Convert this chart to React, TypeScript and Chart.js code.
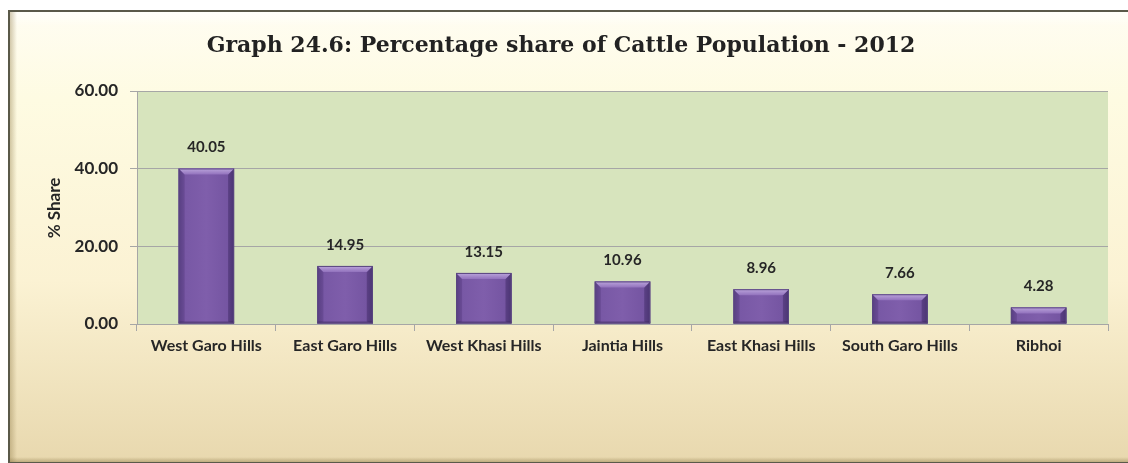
import React, { useEffect, useRef } from "react";
import { Chart, registerables } from "chart.js";

Chart.register(...registerables);

const categories = [
  "West Garo Hills",
  "East Garo Hills",
  "West Khasi Hills",
  "Jaintia Hills",
  "East Khasi Hills",
  "South Garo Hills",
  "Ribhoi",
];
const shares = [40.05, 14.95, 13.15, 10.96, 8.96, 7.66, 4.28];
const yMin = 0;
const yMax = 60;
const yStep = 20;
const chartTitle = "Graph 24.6: Percentage share of Cattle Population - 2012";
const yAxisTitle = "% Share";

const W = 1128;
const H = 463;
const AXIS_FONT = "Lato, 'Open Sans', sans-serif";

const framePlugin = {
  id: "frame",
  beforeDraw(chart: any) {
    const ctx = chart.ctx as CanvasRenderingContext2D;
    ctx.save();
    ctx.fillStyle = "#ffffff";
    ctx.fillRect(0, 0, W, H);
    const fx = 8, fy = 10, fr = W + 10, fb = 462;
    const g = ctx.createLinearGradient(0, fy, 0, fb);
    g.addColorStop(0, "#fffdf2");
    g.addColorStop(0.2, "#fefbe2");
    g.addColorStop(0.6, "#fbf2d3");
    g.addColorStop(1, "#e8d8ae");
    ctx.fillStyle = g;
    ctx.fillRect(fx, fy, fr - fx, fb - fy);
    const tg = ctx.createLinearGradient(0, fy, 0, fy + 16);
    tg.addColorStop(0, "rgba(255,255,250,1)");
    tg.addColorStop(1, "rgba(255,255,250,0)");
    ctx.fillStyle = tg;
    ctx.fillRect(fx, fy, fr - fx, 16);
    const lg = ctx.createLinearGradient(fx, 0, fx + 9, 0);
    lg.addColorStop(0, "rgba(150,130,80,0.55)");
    lg.addColorStop(1, "rgba(150,130,80,0)");
    ctx.fillStyle = lg;
    ctx.fillRect(fx, fy, 9, fb - fy);
    const bg = ctx.createLinearGradient(0, fb - 5, 0, fb);
    bg.addColorStop(0, "rgba(140,120,70,0)");
    bg.addColorStop(1, "rgba(140,120,70,0.45)");
    ctx.fillStyle = bg;
    ctx.fillRect(fx, fb - 5, fr - fx, 5);
    ctx.strokeStyle = "#5a5949";
    ctx.lineWidth = 2;
    ctx.strokeRect(fx + 1, fy + 1, fr - fx, fb - fy);
    const a = chart.chartArea;
    ctx.fillStyle = "#d7e4bd";
    ctx.fillRect(a.left, a.top, a.right - a.left, a.bottom - a.top);
    ctx.fillStyle = "#222222";
    ctx.font = "bold 22px 'DejaVu Serif', serif";
    ctx.textAlign = "center";
    ctx.textBaseline = "middle";
    ctx.fillText(chartTitle, 561, 46);
    ctx.save();
    ctx.translate(55, 208);
    ctx.rotate(-Math.PI / 2);
    ctx.font = `bold 17px ${AXIS_FONT}`;
    ctx.fillStyle = "#262626";
    ctx.fillText(yAxisTitle, 0, 0);
    ctx.restore();
    ctx.restore();
  },
};

const barStylePlugin = {
  id: "barStyle",
  afterDatasetsDraw(chart: any) {
    const ctx = chart.ctx as CanvasRenderingContext2D;
    const meta = chart.getDatasetMeta(0);
    ctx.save();
    meta.data.forEach((bar: any, i: number) => {
      const { x, y, base, width } = bar.getProps(["x", "y", "base", "width"], true);
      const l = x - width / 2;
      const r = x + width / 2;
      const t = y;
      const b = base;
      const bev = Math.min(6, (b - t) / 2);
      const hg = ctx.createLinearGradient(l, 0, r, 0);
      hg.addColorStop(0, "#5e4689");
      hg.addColorStop(0.12, "#7858a5");
      hg.addColorStop(0.5, "#7f5eab");
      hg.addColorStop(0.88, "#7555a2");
      hg.addColorStop(1, "#5a4383");
      ctx.fillStyle = hg;
      ctx.fillRect(l, t, r - l, b - t);
      ctx.fillStyle = "rgba(70,45,110,0.25)";
      ctx.beginPath();
      ctx.moveTo(l, t);
      ctx.lineTo(l + bev, t + bev);
      ctx.lineTo(l + bev, b - 2);
      ctx.lineTo(l, b);
      ctx.closePath();
      ctx.fill();
      ctx.fillStyle = "rgba(50,30,85,0.35)";
      ctx.beginPath();
      ctx.moveTo(r, t);
      ctx.lineTo(r - bev, t + bev);
      ctx.lineTo(r - bev, b - 2);
      ctx.lineTo(r, b);
      ctx.closePath();
      ctx.fill();
      const tg = ctx.createLinearGradient(0, t, 0, t + bev);
      tg.addColorStop(0, "#bca6dc");
      tg.addColorStop(1, "#9272bd");
      ctx.fillStyle = tg;
      ctx.beginPath();
      ctx.moveTo(l, t);
      ctx.lineTo(r, t);
      ctx.lineTo(r - bev, t + bev);
      ctx.lineTo(l + bev, t + bev);
      ctx.closePath();
      ctx.fill();
      ctx.fillStyle = "rgba(50,30,80,0.45)";
      ctx.fillRect(l, b - 2, r - l, 2);
      ctx.strokeStyle = "#5a4680";
      ctx.lineWidth = 1;
      ctx.strokeRect(l + 0.5, t + 0.5, r - l - 1, b - t - 1);
      ctx.fillStyle = "#262626";
      ctx.font = `bold 15px ${AXIS_FONT}`;
      ctx.textAlign = "center";
      ctx.textBaseline = "alphabetic";
      ctx.fillText(shares[i].toFixed(2), x, t - 16);
    });
    ctx.restore();
  },
};

export default function App() {
  const canvasRef = useRef<HTMLCanvasElement | null>(null);

  useEffect(() => {
    if (!canvasRef.current) return;
    const chart = new Chart(canvasRef.current, {
      type: "bar",
      data: {
        labels: categories,
        datasets: [
          {
            data: shares,
            backgroundColor: "#7a59a6",
            borderWidth: 0,
            barPercentage: 0.4,
            categoryPercentage: 1,
          },
        ],
      },
      plugins: [framePlugin, barStylePlugin],
      options: {
        responsive: false,
        animation: false,
        devicePixelRatio: 1,
        layout: { padding: { left: 0, top: 91, right: 20, bottom: 0 } },
        plugins: {
          legend: { display: false },
          title: { display: false },
          tooltip: { enabled: false },
        },
        scales: {
          x: {
            afterFit: (s: any) => {
              s.height = 139;
            },
            grid: {
              display: true,
              offset: true,
              drawOnChartArea: false,
              drawTicks: true,
              tickLength: 7,
              color: "#a6a6a6",
            },
            border: { display: true, color: "#a6a6a6", width: 1 },
            ticks: {
              color: "#262626",
              font: { family: AXIS_FONT, weight: "bold", size: 16 },
              padding: 5,
              maxRotation: 0,
              autoSkip: false,
            },
          },
          y: {
            min: yMin,
            max: yMax,
            afterFit: (s: any) => {
              s.width = 137;
            },
            grid: {
              color: "#a6a6a6",
              drawTicks: true,
              tickLength: 7,
            },
            border: { display: true, color: "#a6a6a6", width: 1 },
            ticks: {
              stepSize: yStep,
              color: "#262626",
              font: { family: AXIS_FONT, weight: "bold", size: 17 },
              padding: 12,
              callback: (v: any) => Number(v).toFixed(2),
            },
          },
        },
      },
    });
    return () => chart.destroy();
  }, []);

  return (
    <div style={{ position: "absolute", left: 0, top: 0, width: W, height: H, overflow: "hidden" }}>
      <canvas ref={canvasRef} width={W} height={H} style={{ display: "block" }} />
    </div>
  );
}
